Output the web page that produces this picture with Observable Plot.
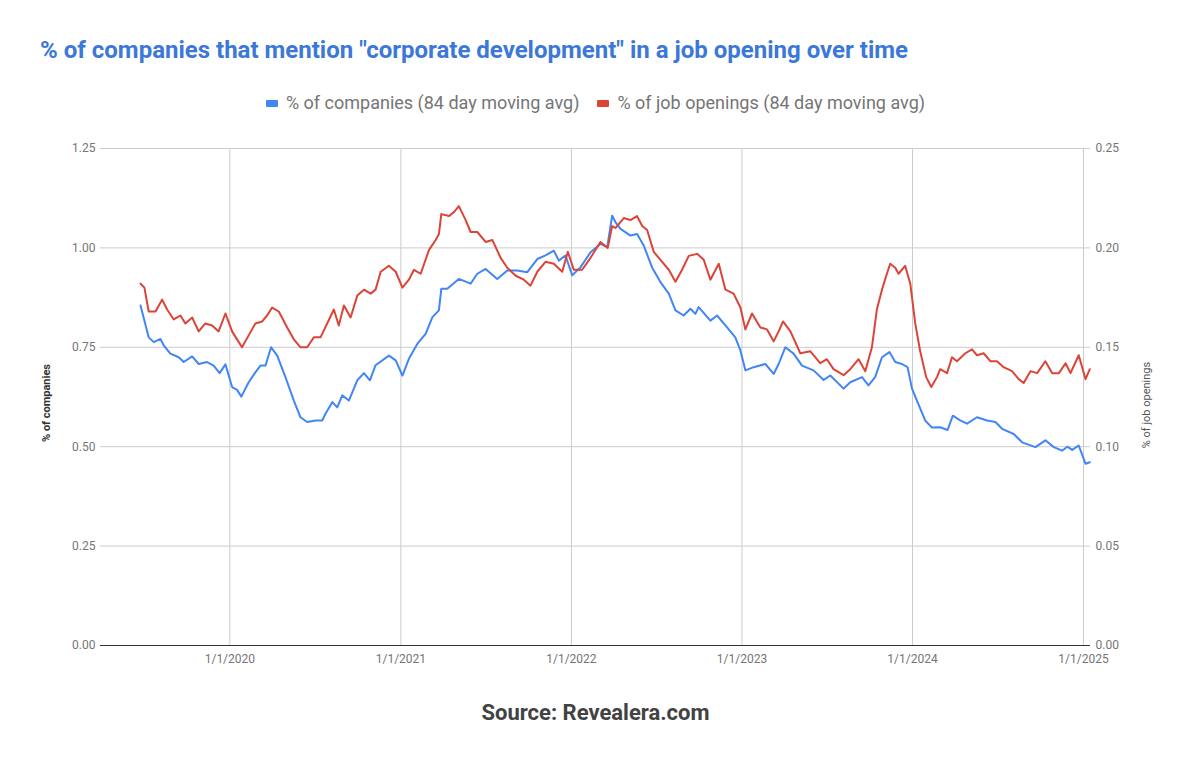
<!DOCTYPE html>
<html>
<head>
<meta charset="utf-8">
<script src="https://cdn.jsdelivr.net/npm/d3@7"></script>
<script src="https://cdn.jsdelivr.net/npm/@observablehq/plot@0.6"></script>
<style>
  body { margin: 0; background: #fff; font-family: Roboto, "Noto Sans", sans-serif; width: 1191px; height: 765px; position: relative; overflow: hidden; }
  #title { position: absolute; left: 40px; top: 36px; line-height: 28px; font-size: 24px; font-weight: bold; color: #3c78d8; white-space: nowrap; }
  #legend { position: absolute; left: 0; width: 1191px; top: 92px; line-height: 22px; display: flex; justify-content: center; gap: 18px; font-size: 18px; color: #757575; white-space: nowrap; }
  #legend .item { display: flex; align-items: center; gap: 8px; }
  #legend .sw { width: 12px; height: 7px; border-radius: 1px; display: inline-block; }
  #chart { position: absolute; left: 0; top: 130px; }
  #caption { position: absolute; left: 0; width: 1191px; top: 700px; line-height: 26px; text-align: center; font-size: 22px; font-weight: bold; color: #424242; }
</style>
</head>
<body>
<div id="title"></div>
<div id="legend"></div>
<div id="chart"></div>
<div id="caption"></div>
<script>
// ---- Text ----
const titleText = '% of companies that mention "corporate development" in a job opening over time';
const seriesNames = ["% of companies (84 day moving avg)", "% of job openings (84 day moving avg)"];
const seriesColors = ["#4285f4", "#db4437"];
const leftAxisLabel = "% of companies";
const rightAxisLabel = "% of job openings";
const captionText = "Source: Revealera.com";

// ---- Tick values ----
const leftTicks = [0, 0.25, 0.5, 0.75, 1.0, 1.25];
const rightTicks = [0, 0.05, 0.10, 0.15, 0.20, 0.25];
const yearTicks = ["2020-01-01", "2021-01-01", "2022-01-01", "2023-01-01", "2024-01-01", "2025-01-01"];

// ---- Series: % of companies (decimal year, value) ----
const companyYears = [2019.476, 2019.524, 2019.554, 2019.593, 2019.612, 2019.651, 2019.700, 2019.729, 2019.779, 2019.817,
  2019.866, 2019.905, 2019.940, 2019.974, 2020.013, 2020.042, 2020.067, 2020.110, 2020.149, 2020.179,
  2020.208, 2020.241, 2020.277, 2020.325, 2020.374, 2020.413, 2020.452, 2020.501, 2020.540, 2020.559,
  2020.599, 2020.628, 2020.657, 2020.696, 2020.745, 2020.784, 2020.819, 2020.852,
  2020.930, 2020.970, 2021.009, 2021.047, 2021.097, 2021.145, 2021.185, 2021.223, 2021.237, 2021.272,
  2021.340, 2021.409, 2021.448, 2021.497, 2021.565, 2021.624, 2021.682, 2021.741, 2021.800, 2021.848,
  2021.897, 2021.926, 2021.965, 2022.005, 2022.053, 2022.112, 2022.170, 2022.210, 2022.239, 2022.258,
  2022.288, 2022.346, 2022.385, 2022.424, 2022.473, 2022.522, 2022.571, 2022.610, 2022.658, 2022.698,
  2022.727, 2022.746, 2022.815, 2022.854, 2022.903, 2022.961, 2022.991, 2023.020, 2023.069, 2023.137,
  2023.186, 2023.215, 2023.254, 2023.303, 2023.352, 2023.420, 2023.479, 2023.518, 2023.596, 2023.635,
  2023.704, 2023.742, 2023.781, 2023.821, 2023.865, 2023.899, 2023.938, 2023.971, 2023.997, 2024.026,
  2024.074, 2024.114, 2024.162, 2024.205, 2024.236, 2024.279, 2024.319, 2024.377, 2024.436, 2024.485,
  2024.524, 2024.592, 2024.641, 2024.719, 2024.777, 2024.826, 2024.875, 2024.905, 2024.934, 2024.972,
  2025.012, 2025.037];
const companyPct = [0.855, 0.775, 0.763, 0.771, 0.755, 0.734, 0.725, 0.713, 0.727, 0.708,
  0.713, 0.704, 0.685, 0.707, 0.650, 0.643, 0.626, 0.662, 0.687, 0.704,
  0.704, 0.750, 0.729, 0.675, 0.616, 0.574, 0.562, 0.566, 0.566, 0.583,
  0.612, 0.599, 0.629, 0.616, 0.667, 0.685, 0.667, 0.705,
  0.729, 0.717, 0.679, 0.721, 0.759, 0.784, 0.826, 0.843, 0.897, 0.897,
  0.922, 0.910, 0.935, 0.947, 0.922, 0.943, 0.943, 0.939, 0.972, 0.981,
  0.993, 0.968, 0.981, 0.931, 0.951, 0.989, 1.010, 1.002, 1.081, 1.065,
  1.048, 1.031, 1.035, 1.006, 0.951, 0.914, 0.885, 0.843, 0.830, 0.847,
  0.834, 0.851, 0.817, 0.830, 0.805, 0.775, 0.742, 0.692, 0.700, 0.708,
  0.683, 0.708, 0.750, 0.734, 0.704, 0.692, 0.668, 0.679, 0.646, 0.662,
  0.675, 0.654, 0.675, 0.725, 0.738, 0.713, 0.708, 0.700, 0.646, 0.616,
  0.566, 0.548, 0.549, 0.542, 0.578, 0.566, 0.558, 0.574, 0.566, 0.562,
  0.545, 0.532, 0.511, 0.499, 0.516, 0.499, 0.490, 0.500, 0.492, 0.503,
  0.457, 0.461];

// ---- Series: % of job openings (decimal year, value) ----
const jobYears = [2019.476, 2019.499, 2019.524, 2019.564, 2019.603, 2019.632, 2019.671, 2019.710, 2019.739, 2019.779,
  2019.817, 2019.856, 2019.896, 2019.934, 2019.974, 2020.013, 2020.042, 2020.071, 2020.110, 2020.149,
  2020.189, 2020.218, 2020.247, 2020.286, 2020.335, 2020.374, 2020.413, 2020.452, 2020.491, 2020.530,
  2020.569, 2020.608, 2020.637, 2020.667, 2020.706, 2020.745, 2020.784, 2020.823, 2020.852, 2020.882,
  2020.930, 2020.970, 2021.009, 2021.047, 2021.077, 2021.116, 2021.165, 2021.204, 2021.223, 2021.237,
  2021.282, 2021.311, 2021.340, 2021.380, 2021.409, 2021.448, 2021.497, 2021.536, 2021.585, 2021.624,
  2021.673, 2021.721, 2021.760, 2021.800, 2021.848, 2021.897, 2021.946, 2021.979, 2022.014, 2022.063,
  2022.112, 2022.170, 2022.213, 2022.239, 2022.258, 2022.307, 2022.346, 2022.385, 2022.415, 2022.444,
  2022.483, 2022.522, 2022.571, 2022.610, 2022.649, 2022.688, 2022.737, 2022.776, 2022.815, 2022.864,
  2022.903, 2022.951, 2022.991, 2023.020, 2023.059, 2023.108, 2023.147, 2023.186, 2023.215, 2023.241,
  2023.284, 2023.342, 2023.401, 2023.459, 2023.498, 2023.537, 2023.596, 2023.635, 2023.684, 2023.723,
  2023.762, 2023.791, 2023.821, 2023.850, 2023.869, 2023.899, 2023.918, 2023.957, 2023.987, 2024.016,
  2024.045, 2024.080, 2024.110, 2024.143, 2024.162, 2024.202, 2024.231, 2024.260, 2024.309, 2024.348,
  2024.377, 2024.416, 2024.455, 2024.494, 2024.533, 2024.582, 2024.621, 2024.650, 2024.690, 2024.729,
  2024.777, 2024.817, 2024.856, 2024.895, 2024.924, 2024.972, 2025.012, 2025.037];
const jobPct = [0.182, 0.180, 0.168, 0.168, 0.174, 0.169, 0.164, 0.166, 0.162, 0.165,
  0.158, 0.162, 0.161, 0.158, 0.167, 0.158, 0.154, 0.150, 0.156, 0.162,
  0.163, 0.166, 0.170, 0.168, 0.160, 0.154, 0.150, 0.150, 0.155, 0.155,
  0.162, 0.169, 0.161, 0.171, 0.165, 0.176, 0.179, 0.177, 0.179, 0.188,
  0.191, 0.188, 0.180, 0.184, 0.189, 0.187, 0.199, 0.204, 0.207, 0.217,
  0.216, 0.218, 0.221, 0.214, 0.208, 0.208, 0.203, 0.204, 0.195, 0.190,
  0.186, 0.184, 0.181, 0.188, 0.193, 0.192, 0.188, 0.198, 0.189, 0.189,
  0.195, 0.203, 0.200, 0.211, 0.210, 0.215, 0.214, 0.216, 0.211, 0.209,
  0.198, 0.194, 0.189, 0.183, 0.189, 0.196, 0.197, 0.194, 0.184, 0.192,
  0.179, 0.177, 0.170, 0.159, 0.167, 0.160, 0.159, 0.153, 0.158, 0.163,
  0.158, 0.147, 0.148, 0.142, 0.144, 0.139, 0.136, 0.139, 0.144, 0.138,
  0.150, 0.169, 0.179, 0.187, 0.192, 0.190, 0.187, 0.191, 0.182, 0.162,
  0.148, 0.135, 0.130, 0.135, 0.139, 0.137, 0.145, 0.143, 0.147, 0.149,
  0.146, 0.147, 0.143, 0.143, 0.140, 0.138, 0.134, 0.132, 0.138, 0.137,
  0.143, 0.137, 0.137, 0.142, 0.137, 0.146, 0.134, 0.139];

// ---- Helpers ----
function toDate(t) {
  const y = Math.floor(t);
  const s = Date.UTC(y, 0, 1), e = Date.UTC(y + 1, 0, 1);
  return new Date(s + (t - y) * (e - s));
}
const ratio = leftTicks[leftTicks.length - 1] / rightTicks[rightTicks.length - 1]; // 5
const companies = companyYears.map((t, i) => ({date: toDate(t), value: companyPct[i]})).filter(d => d.value != null);
const jobs = jobYears.map((t, i) => ({date: toDate(t), value: jobPct[i]})).filter(d => d.value != null);
const yearDates = yearTicks.map(s => new Date(s + "T00:00:00Z"));

// ---- Title / legend / caption ----
document.getElementById("title").textContent = titleText;
const legend = document.getElementById("legend");
seriesNames.forEach((name, i) => {
  const item = document.createElement("span");
  item.className = "item";
  const sw = document.createElement("span");
  sw.className = "sw";
  sw.style.background = seriesColors[i];
  const label = document.createElement("span");
  label.textContent = name;
  item.appendChild(sw);
  item.appendChild(label);
  legend.appendChild(item);
});
document.getElementById("caption").textContent = captionText;

// ---- Chart ----
const chart = Plot.plot({
  width: 1191,
  height: 555,
  marginLeft: 100,
  marginRight: 101,
  marginTop: 18,
  marginBottom: 40,
  style: {fontFamily: "Roboto, sans-serif", fontSize: "12px", color: "#757575", background: "#fff", overflow: "visible"},
  x: {type: "utc", domain: [toDate(2019.2414), toDate(2025.041)]},
  y: {domain: [0, 1.25]},
  marks: [
    Plot.ruleY(leftTicks.filter(d => d > 0), {stroke: "#cccccc", strokeWidth: 1, strokeOpacity: 1}),
    Plot.ruleX(yearDates, {y1: 0, y2: 1.25, stroke: "#cccccc", strokeWidth: 1, strokeOpacity: 1}),
    Plot.ruleY([0], {stroke: "#333333", strokeWidth: 1}),
    Plot.line(companies, {x: "date", y: "value", stroke: seriesColors[0], strokeWidth: 2}),
    Plot.line(jobs, {x: "date", y: d => d.value * ratio, stroke: seriesColors[1], strokeWidth: 2}),
    Plot.axisX({ticks: yearDates, tickFormat: d3.utcFormat("%-m/%-d/%Y"), tickSize: 0, tickPadding: 9, label: null, fill: "#757575"}),
    Plot.axisY({ticks: leftTicks, tickFormat: d => d.toFixed(2), tickSize: 0, tickPadding: 5, label: null, fill: "#757575"}),
    Plot.axisY({anchor: "right", ticks: leftTicks, tickFormat: d => (d / ratio).toFixed(2), tickSize: 0, tickPadding: 5, label: null, fill: "#757575"}),
    Plot.text([leftAxisLabel], {frameAnchor: "left", textAnchor: "middle", dx: -54, dy: 6, rotate: -90, fontSize: 11, fontWeight: "bold", fill: "#333333"}),
    Plot.text([rightAxisLabel], {frameAnchor: "right", textAnchor: "middle", dx: 56, dy: 8, rotate: -90, fontSize: 11, fill: "#555555"})
  ]
});
document.getElementById("chart").appendChild(chart);
</script>
</body>
</html>
